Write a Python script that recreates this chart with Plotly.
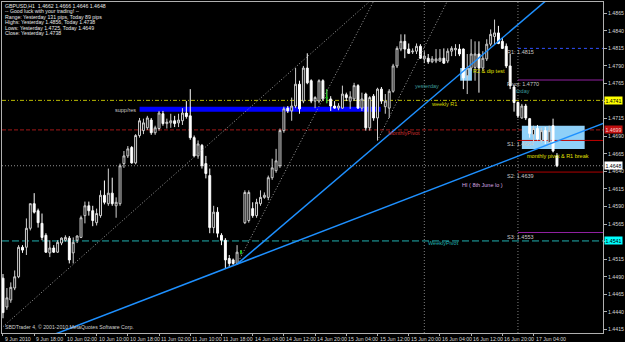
import plotly.graph_objects as go

# ---------------- data (GBPUSD H1) ----------------
tick_bars = [0, 8, 16, 24, 32, 40, 48, 56, 64, 72, 80, 88, 96, 104, 112, 120, 128, 136]
tick_text = ["9 Jun 2010", "9 Jun 18:00", "10 Jun 02:00", "10 Jun 10:00", "10 Jun 18:00",
             "11 Jun 02:00", "11 Jun 10:00", "11 Jun 18:00", "14 Jun 04:00", "14 Jun 12:00",
             "14 Jun 20:00", "15 Jun 04:00", "15 Jun 12:00", "15 Jun 20:00", "16 Jun 04:00",
             "16 Jun 12:00", "16 Jun 20:00", "17 Jun 04:00"]

opens = [1.4488, 1.4447, 1.4457, 1.4474, 1.4490, 1.4532, 1.4532, 1.4559, 1.4594, 1.4584,
         1.4566, 1.4549, 1.4524, 1.4531, 1.4525, 1.4538, 1.4542, 1.4545, 1.4524, 1.4542,
         1.4546, 1.4577, 1.4591, 1.4584, 1.4567, 1.4577, 1.4606, 1.4594, 1.4609, 1.4591,
         1.4594, 1.4651, 1.4662, 1.4674, 1.4652, 1.4691, 1.4698, 1.4702, 1.4713, 1.4695,
         1.4701, 1.4722, 1.4708, 1.4709, 1.4712, 1.4709, 1.4712, 1.4723, 1.4719, 1.4688,
         1.4662, 1.4677, 1.4651, 1.4634, 1.4560, 1.4582, 1.4549, 1.4542, 1.4516, 1.4514,
         1.4509, 1.4525, 1.4567, 1.4570, 1.4587, 1.4577, 1.4594, 1.4603, 1.4603, 1.4631,
         1.4641, 1.4648, 1.4698, 1.4730, 1.4726, 1.4733, 1.4764, 1.4740, 1.4787, 1.4769,
         1.4740, 1.4740, 1.4769, 1.4745, 1.4743, 1.4733, 1.4730, 1.4730, 1.4749, 1.4740,
         1.4743, 1.4762, 1.4730, 1.4750, 1.4702, 1.4747, 1.4716, 1.4757, 1.4732, 1.4730,
         1.4754, 1.4790, 1.4814, 1.4825, 1.4814, 1.4810, 1.4811, 1.4818, 1.4800, 1.4801,
         1.4796, 1.4797, 1.4797, 1.4801, 1.4797, 1.4811, 1.4813, 1.4814, 1.4814, 1.4776,
         1.4787, 1.4788, 1.4807, 1.4787, 1.4800, 1.4821, 1.4832, 1.4837, 1.4825, 1.4818,
         1.4790, 1.4760, 1.4738, 1.4716, 1.4733, 1.4715, 1.4692, 1.4701, 1.4684, 1.4698,
         1.4681, 1.4705, 1.4662]
highs = [1.4494, 1.4474, 1.4482, 1.4499, 1.4535, 1.4535, 1.4573, 1.4594, 1.4609, 1.4587,
         1.4580, 1.4552, 1.4542, 1.4535, 1.4542, 1.4546, 1.4549, 1.4548, 1.4546, 1.4549,
         1.4577, 1.4597, 1.4597, 1.4591, 1.4587, 1.4613, 1.4627, 1.4644, 1.4631, 1.4603,
         1.4651, 1.4669, 1.4676, 1.4676, 1.4693, 1.4716, 1.4715, 1.4719, 1.4716, 1.4705,
         1.4726, 1.4726, 1.4715, 1.4722, 1.4719, 1.4722, 1.4730, 1.4740, 1.4757, 1.4691,
         1.4684, 1.4679, 1.4662, 1.4644, 1.4591, 1.4589, 1.4552, 1.4545, 1.4521, 1.4516,
         1.4535, 1.4528, 1.4613, 1.4613, 1.4596, 1.4601, 1.4613, 1.4610, 1.4634, 1.4658,
         1.4672, 1.4701, 1.4732, 1.4733, 1.4745, 1.4787, 1.4769, 1.4790, 1.4808, 1.4771,
         1.4747, 1.4771, 1.4771, 1.4757, 1.4747, 1.4740, 1.4737, 1.4762, 1.4752, 1.4754,
         1.4766, 1.4764, 1.4752, 1.4752, 1.4747, 1.4750, 1.4759, 1.4760, 1.4750, 1.4757,
         1.4793, 1.4818, 1.4835, 1.4835, 1.4822, 1.4815, 1.4822, 1.4821, 1.4811, 1.4807,
         1.4804, 1.4814, 1.4814, 1.4815, 1.4815, 1.4818, 1.4821, 1.4821, 1.4815, 1.4807,
         1.4828, 1.4825, 1.4825, 1.4811, 1.4828, 1.4842, 1.4856, 1.4847, 1.4830, 1.4822,
         1.4807, 1.4763, 1.4738, 1.4736, 1.4736, 1.4716, 1.4705, 1.4706, 1.4702, 1.4703,
         1.4705, 1.4715, 1.4666]
lows = [1.4431, 1.4443, 1.4453, 1.4471, 1.4488, 1.4524, 1.4521, 1.4556, 1.4580, 1.4560,
        1.4542, 1.4524, 1.4518, 1.4524, 1.4524, 1.4535, 1.4540, 1.4509, 1.4509, 1.4538,
        1.4545, 1.4566, 1.4577, 1.4562, 1.4563, 1.4574, 1.4593, 1.4591, 1.4591, 1.4574,
        1.4591, 1.4645, 1.4659, 1.4651, 1.4650, 1.4688, 1.4693, 1.4699, 1.4692, 1.4692,
        1.4698, 1.4705, 1.4701, 1.4702, 1.4703, 1.4703, 1.4706, 1.4715, 1.4685, 1.4660,
        1.4658, 1.4644, 1.4630, 1.4552, 1.4552, 1.4546, 1.4535, 1.4502, 1.4504, 1.4507,
        1.4507, 1.4522, 1.4565, 1.4567, 1.4574, 1.4574, 1.4591, 1.4601, 1.4599, 1.4628,
        1.4638, 1.4645, 1.4695, 1.4723, 1.4712, 1.4730, 1.4722, 1.4737, 1.4764, 1.4737,
        1.4730, 1.4737, 1.4740, 1.4737, 1.4726, 1.4729, 1.4727, 1.4729, 1.4740, 1.4729,
        1.4740, 1.4729, 1.4726, 1.4698, 1.4698, 1.4712, 1.4684, 1.4736, 1.4722, 1.4716,
        1.4752, 1.4787, 1.4811, 1.4801, 1.4807, 1.4807, 1.4807, 1.4800, 1.4794, 1.4793,
        1.4794, 1.4794, 1.4796, 1.4793, 1.4794, 1.4804, 1.4804, 1.4804, 1.4757, 1.4750,
        1.4783, 1.4769, 1.4752, 1.4783, 1.4797, 1.4818, 1.4821, 1.4821, 1.4814, 1.4787,
        1.4757, 1.4725, 1.4716, 1.4715, 1.4713, 1.4688, 1.4681, 1.4684, 1.4681, 1.4679,
        1.4676, 1.4667, 1.4646]
closes = [1.4439, 1.4460, 1.4475, 1.4490, 1.4532, 1.4528, 1.4559, 1.4594, 1.4582, 1.4567,
          1.4546, 1.4525, 1.4531, 1.4525, 1.4539, 1.4545, 1.4546, 1.4514, 1.4539, 1.4548,
          1.4574, 1.4591, 1.4584, 1.4570, 1.4580, 1.4606, 1.4596, 1.4609, 1.4594, 1.4596,
          1.4648, 1.4662, 1.4672, 1.4652, 1.4691, 1.4712, 1.4709, 1.4716, 1.4695, 1.4702,
          1.4723, 1.4708, 1.4710, 1.4712, 1.4708, 1.4713, 1.4723, 1.4718, 1.4688, 1.4662,
          1.4679, 1.4648, 1.4637, 1.4560, 1.4582, 1.4552, 1.4542, 1.4514, 1.4509, 1.4509,
          1.4525, 1.4525, 1.4610, 1.4610, 1.4577, 1.4596, 1.4603, 1.4606, 1.4631, 1.4645,
          1.4655, 1.4698, 1.4729, 1.4726, 1.4733, 1.4764, 1.4729, 1.4787, 1.4766, 1.4740,
          1.4745, 1.4769, 1.4743, 1.4745, 1.4733, 1.4730, 1.4733, 1.4750, 1.4745, 1.4746,
          1.4762, 1.4730, 1.4743, 1.4702, 1.4745, 1.4716, 1.4757, 1.4740, 1.4740, 1.4754,
          1.4790, 1.4815, 1.4825, 1.4814, 1.4808, 1.4811, 1.4818, 1.4801, 1.4804, 1.4796,
          1.4800, 1.4800, 1.4801, 1.4794, 1.4811, 1.4815, 1.4815, 1.4807, 1.4773, 1.4787,
          1.4807, 1.4807, 1.4787, 1.4801, 1.4821, 1.4835, 1.4837, 1.4822, 1.4815, 1.4790,
          1.4762, 1.4738, 1.4719, 1.4733, 1.4716, 1.4694, 1.4701, 1.4686, 1.4698, 1.4684,
          1.4698, 1.4669, 1.4648]

price_ticks = [1.4415, 1.4440, 1.4465, 1.4490, 1.4515, 1.4540, 1.4565, 1.4590, 1.4615, 1.4640,
               1.4665, 1.4690, 1.4715, 1.4740, 1.4765, 1.4790, 1.4815, 1.4840, 1.4865]
hidden_ticks = [1.4540, 1.4740]   # covered by the coloured price tags

# levels
weekly_r1 = 1.4741
monthly_pivot = 1.4699
bid_price = 1.4648
weekly_pivot = 1.4541
daily_names = ["R1", "Pivot", "S1", "S2", "S3"]
daily_values = [1.4815, 1.4770, 1.4684, 1.4639, 1.4553]
daily_colors = ["#3050ff", "#9020a0", "#c00000", "#b00000", "#9020a0"]
daily_dash = ["dot", "solid", "solid", "solid", "solid"]
daily_start_bar = 132
separator_bars = [108, 132]

# trend lines: (x0, y0, x1, y1, start, end)
blue_lines = [(60, 1.4508, 142, 1.4683, -5, 160),
              (60, 1.4508, 139, 1.4882, 60, 160)]
dotted_lines = [(0, 1.4419, 93.4, 1.4879, 0, 160),
                (60, 1.4508, 94.7, 1.4879, 60, 160),
                (96, 1.4684, 113.6, 1.4879, 96, 160)]

# rectangles: (x0, x1, y0, y1, color)
rects = [(35, 96.8, 1.4725, 1.4732, "#0000ff"),
         (117.2, 120.2, 1.4769, 1.4787, "#8fd0f8"),
         (133.0, 149.1, 1.4672, 1.4705, "#8fd0f8")]

# chart texts: (bar, price, text, color, anchor)
chart_texts = [(34.6, 1.4727, "supp/res", "#c8c8c8", "right"),
               (105.2, 1.4761, "yesterday", "#3c9c9c", "left"),
               (109.3, 1.4736, "weekly R1", "#d8d800", "left"),
               (98.3, 1.4694, "MonthlyPivot", "#d03030", "left"),
               (120.0, 1.4783, "R2 & dip test", "#e0e000", "left"),
               (133.8, 1.4662, "monthly pivot & R1 break", "#e0e000", "left"),
               (117.2, 1.4620, "HI ( 8th June lo )", "#d8a8e0", "left"),
               (108.5, 1.4538, "WeeklyPivot", "#20b0b0", "left"),
               (131.0, 1.4754, "today", "#3c9c9c", "left")]

header_lines = ["GBPUSD,H1  1.4662 1.4666 1.4646 1.4648",
                "-- Good luck with your trading! --",
                "Range: Yesterday 131 pips, Today 89 pips",
                "Highs: Yesterday 1.4856, Today 1.4738",
                "Lows: Yesterday 1.4725, Today 1.4649",
                "Close: Yesterday 1.4738"]

FONT = "Liberation Sans"
FS = 5.2

bars = list(range(len(opens)))
fig = go.Figure()

# shapes (drawn below traces)
shapes = []
for x0, x1, y0, y1, col in rects:
    shapes.append(dict(type="rect", xref="x", yref="y", x0=x0, x1=x1, y0=y0, y1=y1,
                       fillcolor=col, line=dict(width=0), layer="below"))
shapes.append(dict(type="line", xref="paper", yref="y", x0=0, x1=1, y0=weekly_r1, y1=weekly_r1,
                   line=dict(color="#b8b800", width=1, dash="4px,2px,1px,2px"), layer="below"))
shapes.append(dict(type="line", xref="paper", yref="y", x0=0, x1=1, y0=monthly_pivot, y1=monthly_pivot,
                   line=dict(color="#a01818", width=1, dash="4px,2px"), layer="below"))
shapes.append(dict(type="line", xref="paper", yref="y", x0=0, x1=1, y0=bid_price, y1=bid_price,
                   line=dict(color="#909090", width=1, dash="1px,2px"), layer="below"))
shapes.append(dict(type="line", xref="paper", yref="y", x0=0, x1=1, y0=weekly_pivot, y1=weekly_pivot,
                   line=dict(color="#20b0b0", width=1, dash="7px,3px"), layer="below"))
for v, col, ds in zip(daily_values, daily_colors, daily_dash):
    shapes.append(dict(type="line", xref="x", yref="y", x0=daily_start_bar, x1=200, y0=v, y1=v,
                       line=dict(color=col, width=1, dash=ds), layer="below"))
for sb in separator_bars:
    shapes.append(dict(type="line", xref="x", yref="paper", x0=sb, x1=sb, y0=0, y1=1,
                       line=dict(color="#808080", width=1, dash="1px,2px"), layer="below"))

# trend lines
def ray(x0, y0, x1, y1, xs, xe):
    k = (y1 - y0) / (x1 - x0)
    return [xs, xe], [y0 + k * (xs - x0), y0 + k * (xe - x0)]

for ln in dotted_lines:
    xs, ys = ray(*ln)
    fig.add_trace(go.Scatter(x=xs, y=ys, mode="lines", hoverinfo="skip",
                             line=dict(color="#a0a0a0", width=1, dash="1px,2px")))

fig.add_trace(go.Candlestick(x=bars, open=opens, high=highs, low=lows, close=closes,
                             increasing=dict(line=dict(color="#d0d0d0", width=1), fillcolor="#000000"),
                             decreasing=dict(line=dict(color="#ffffff", width=1), fillcolor="#ffffff"),
                             whiskerwidth=0, hoverinfo="skip"))
doji = [i for i in bars if opens[i] == closes[i]]
fig.add_trace(go.Candlestick(x=doji, open=[opens[i] for i in doji], high=[highs[i] for i in doji],
                             low=[lows[i] for i in doji], close=[closes[i] for i in doji],
                             increasing=dict(line=dict(color="#00c000", width=1), fillcolor="#00c000"),
                             decreasing=dict(line=dict(color="#00c000", width=1), fillcolor="#00c000"),
                             whiskerwidth=0, hoverinfo="skip"))

for ln in blue_lines:
    xs, ys = ray(*ln)
    fig.add_trace(go.Scatter(x=xs, y=ys, mode="lines", hoverinfo="skip",
                             line=dict(color="#1e90ff", width=1.5)))

ann = []
for b, t in zip(tick_bars, tick_text):
    ann.append(dict(x=b, y=0, xref="x", yref="paper", text=t, showarrow=False,
                    xanchor="left", yanchor="top", yshift=-0.5,
                    font=dict(family=FONT, size=FS, color="#d8d8d8")))
for b, p, t, col, anc in chart_texts:
    ann.append(dict(x=b, y=p, xref="x", yref="y", text=t, showarrow=False,
                    xanchor=anc, yanchor="middle", font=dict(family=FONT, size=FS + 0.3, color=col)))
for n, v in zip(daily_names, daily_values):
    ann.append(dict(x=daily_start_bar - 3.3, y=v, xref="x", yref="y", text="%s: %.4f" % (n, v),
                    showarrow=False, xanchor="left", yanchor="top", yshift=1,
                    font=dict(family=FONT, size=FS + 0.3, color="#c8c8c8")))
for i, t in enumerate(header_lines):
    ann.append(dict(x=0, y=1, xref="paper", yref="paper", text=t, showarrow=False,
                    xanchor="left", yanchor="middle", xshift=1, yshift=-(4 + 5.4 * i),
                    font=dict(family=FONT, size=FS, color="#e8e8e8")))
ann.append(dict(x=0, y=0, xref="paper", yref="paper",
                text="SBDTrader 4, \u00a9 2001-2010 MetaQuotes Software Corp.", showarrow=False,
                xanchor="left", yanchor="bottom", xshift=1, yshift=1,
                font=dict(family=FONT, size=FS, color="#d0d0d0")))
# price tags on the axis
for p, bg, fg in [(weekly_r1, "#ffff00", "#000000"), (monthly_pivot, "#c01010", "#ffd0d0"),
                  (bid_price, "#ffffff", "#000000"), (weekly_pivot, "#00ffff", "#000000")]:
    ann.append(dict(x=1, y=p, xref="paper", yref="y", text="%.4f" % p, showarrow=False,
                    xanchor="left", yanchor="middle", xshift=1, bgcolor=bg, borderpad=0.5,
                    font=dict(family=FONT, size=FS, color=fg)))

tick_labels = ["" if any(abs(v - h) < 1e-9 for h in hidden_ticks) else "%.4f" % v
               for v in price_ticks]

fig.update_layout(
    width=625, height=342, margin=dict(l=2, r=19, t=1, b=9),
    paper_bgcolor="#000000", plot_bgcolor="#000000", showlegend=False,
    shapes=shapes, annotations=ann,
    xaxis=dict(range=[-0.255, 153.8], rangeslider=dict(visible=False), showgrid=False,
               zeroline=False, tickvals=tick_bars, ticks="outside", ticklen=2,
               tickcolor="#b0b0b0", showticklabels=False, showline=True, mirror=True,
               linecolor="#b0b0b0", linewidth=1),
    yaxis=dict(side="right", range=[1.4410, 1.4881], tickvals=price_ticks,
               ticktext=tick_labels, ticks="outside", ticklen=3,
               tickcolor="#b0b0b0", tickfont=dict(family=FONT, size=FS, color="#d8d8d8"),
               showgrid=False, zeroline=False, showline=True, mirror=True,
               linecolor="#b0b0b0", linewidth=1),
)

fig.write_html("out.html")
